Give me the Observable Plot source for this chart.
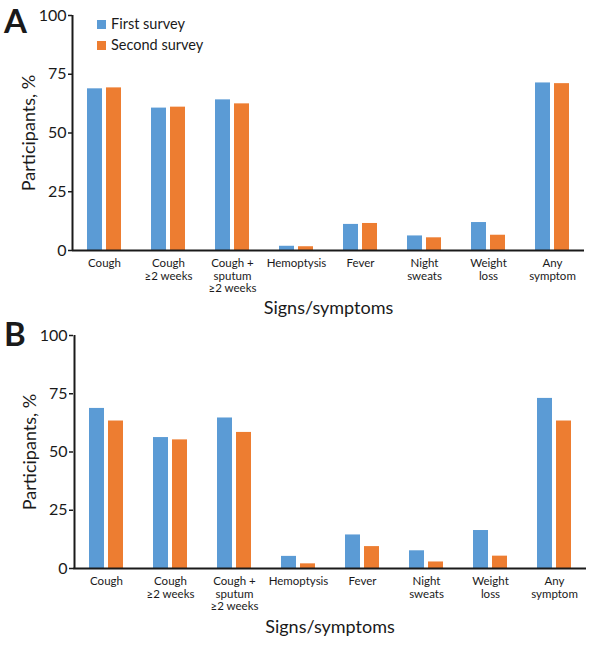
<!DOCTYPE html>
<html>
<head>
<meta charset="utf-8">
<script src="https://cdn.jsdelivr.net/npm/d3@7"></script>
<script src="https://cdn.jsdelivr.net/npm/@observablehq/plot@0.6"></script>
<style>
  body { margin: 0; background: #fff; }
  #wrap { position: relative; width: 600px; height: 646px; font-family: Lato, "Open Sans", sans-serif; color: #1a1a1a; }
  .panel { position: absolute; left: 0; }
  .letter { position: absolute; left: 4px; font-size: 33px; font-weight: bold; line-height: 1; }
  .leg { position: absolute; left: 97px; font-size: 14.5px; line-height: 1; white-space: nowrap; }
  .sw { display: inline-block; width: 9px; height: 9px; margin-right: 5px; vertical-align: 0px; }
</style>
</head>
<body>
<div id="wrap">
  <div id="a" class="panel" style="top:0"></div>
  <div id="b" class="panel" style="top:320px"></div>
  <div class="letter" style="top:4px">A</div>
  <div class="letter" style="top:317px">B</div>
  <div class="leg" style="top:17px"><span class="sw" style="background:#5B9BD5"></span>First survey</div>
  <div class="leg" style="top:38px"><span class="sw" style="background:#ED7D31"></span>Second survey</div>
</div>
<script>
const categories = ["Cough", "Cough\n≥2 weeks", "Cough +\nsputum\n≥2 weeks", "Hemoptysis", "Fever", "Night\nsweats", "Weight\nloss", "Any\nsymptom"];
const seriesNames = ["First survey", "Second survey"];
const colors = ["#5B9BD5", "#ED7D31"];
const yTicks = [0, 25, 50, 75, 100];
const panelAFirst = [68.8, 60.6, 64.1, 1.8, 11.1, 6.2, 11.9, 71.3];
const panelASecond = [69.2, 61.0, 62.4, 1.6, 11.5, 5.4, 6.5, 71.0];
const panelBFirst = [68.7, 56.2, 64.6, 5.2, 14.4, 7.6, 16.3, 73.0];
const panelBSecond = [63.3, 55.2, 58.4, 2.0, 9.4, 2.8, 5.3, 63.3];
const xTitle = "Signs/symptoms";
const yTitle = "Participants, %";

function makePanel(first, second, opts) {
  const rows = categories.map((c, i) => ({symptom: c, first: first[i], second: second[i]}));
  return Plot.plot({
    width: 600,
    height: opts.height,
    marginTop: 15,
    marginBottom: opts.marginBottom,
    marginLeft: opts.marginLeft,
    marginRight: opts.marginRight,
    style: {fontFamily: "Lato, 'Open Sans', sans-serif", color: "#1a1a1a", background: "#fff"},
    x: {domain: categories, padding: 0},
    y: {domain: [0, 100]},
    marks: [
      Plot.barY(rows, {x: "symptom", y: "first", fill: colors[0], insetLeft: 15, insetRight: 34}),
      Plot.barY(rows, {x: "symptom", y: "second", fill: colors[1], insetLeft: 34, insetRight: 15}),
      Plot.axisY({ticks: yTicks, tickSize: 4, tickPadding: 2, fontSize: 16, label: null, strokeWidth: 1.5}),
      Plot.axisX({tickSize: 0, tickPadding: 7, fontSize: 11.5, lineHeight: 1.12, label: null}),
      Plot.ruleY([0], {stroke: "#1a1a1a", strokeWidth: 2}),
      Plot.ruleX([categories[0]], {dx: -32, y1: 0, y2: 100, stroke: "#1a1a1a", strokeWidth: 2}),
      Plot.text([xTitle], {frameAnchor: "bottom", dy: opts.xTitleDy, fontSize: 18, lineAnchor: "middle", textAnchor: "middle"}),
      Plot.text([yTitle], {frameAnchor: "left", rotate: -90, dx: -43, fontSize: 18, lineAnchor: "middle", textAnchor: "middle"})
    ]
  });
}

document.getElementById("a").appendChild(makePanel(panelAFirst, panelASecond, {height: 320, marginBottom: 70, marginLeft: 72, marginRight: 16, xTitleDy: 58}));
document.getElementById("b").appendChild(makePanel(panelBFirst, panelBSecond, {height: 326, marginBottom: 78, marginLeft: 73, marginRight: 14, xTitleDy: 59}));
</script>
</body>
</html>
